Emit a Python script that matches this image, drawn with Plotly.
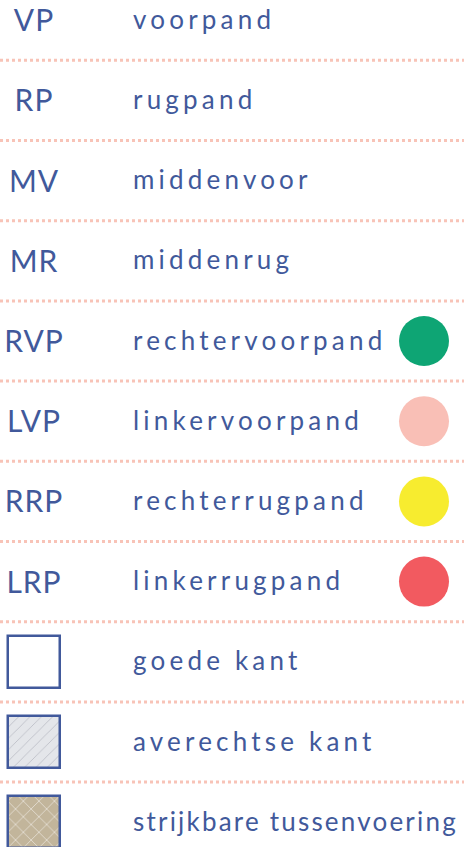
import plotly.graph_objects as go

# ---- data ----
abbrevs = ["VP", "RP", "MV", "MR", "RVP", "LVP", "RRP", "LRP"]
names = ["voorpand", "rugpand", "middenvoor", "middenrug", "rechtervoorpand",
         "linkervoorpand", "rechterrugpand", "linkerrugpand",
         "goede kant", "averechtse kant", "strijkbare tussenvoering"]
dot_colors = {4: "#0EA574", 5: "#F9BFB6", 6: "#F7EC2F", 7: "#F25A60"}
swatch_rows = [8, 9, 10]
swatch_fill = ["#FFFFFF", "#E4E6EA", "#C2B59B"]
swatch_pattern = ["", "/", "x"]
swatch_pfg = ["#FFFFFF", "#A4A8B2", "#FFFFFF"]
swatch_psize = [8, 8, 11]
swatch_psol = [0.1, 0.08, 0.1]

# ---- layout constants ----
W, H = 464, 847
ROW0, STEP = 20.2, 80.2
BLUE = "#41599B"
DOTC = "#F8C3B7"
ABBR_X, NAME_X, CIRC_X = 34, 133, 424
BOX = 52

def row_y(i):
    return ROW0 + STEP * i

fig = go.Figure()

# dotted separators
for k in range(len(names) - 1):
    yy = row_y(k) + STEP / 2
    fig.add_trace(go.Scatter(x=[0, W], y=[yy, yy], mode="lines",
                             line=dict(color=DOTC, width=3, dash="dot"),
                             hoverinfo="skip"))

# swatch boxes (bars), one trace each
for r, fill, shp, fg, ps, sol in zip(swatch_rows, swatch_fill, swatch_pattern,
                                     swatch_pfg, swatch_psize, swatch_psol):
    fig.add_trace(go.Bar(
        x=[ABBR_X], y=[BOX], base=[row_y(r) - BOX / 2], width=[BOX],
        marker=dict(color=fill, line=dict(color=BLUE, width=2.5),
                    pattern=dict(shape=shp, fgcolor=fg, bgcolor=fill,
                                 size=ps, solidity=sol, fgopacity=0.85)),
        hoverinfo="skip"))

# abbreviations
fig.add_trace(go.Scatter(
    x=[ABBR_X] * len(abbrevs), y=[row_y(i) + 3.5 for i in range(len(abbrevs))],
    mode="text", text=abbrevs, textposition="middle center",
    textfont=dict(family="Lato", size=30, color=BLUE), hoverinfo="skip"))

# names
fig.add_trace(go.Scatter(
    x=[NAME_X] * len(names), y=[row_y(i) + 2 for i in range(len(names))],
    mode="text", text=names, textposition="middle right",
    textfont=dict(family="Lato", size=26, color=BLUE), hoverinfo="skip"))

# coloured circles
rows_c = list(dot_colors.keys())
fig.add_trace(go.Scatter(
    x=[CIRC_X] * len(rows_c), y=[row_y(r) for r in rows_c],
    mode="markers",
    marker=dict(size=50, color=[dot_colors[r] for r in rows_c], line=dict(width=0)),
    hoverinfo="skip"))

fig.update_layout(
    width=W, height=H, margin=dict(l=0, r=0, t=0, b=0),
    paper_bgcolor="white", plot_bgcolor="white", showlegend=False,
    xaxis=dict(range=[0, W], visible=False, fixedrange=True),
    yaxis=dict(range=[H, 0], visible=False, fixedrange=True),
    bargap=0, barmode="overlay",
)

post = """
document.body.style.margin='0';
document.body.style.overflow='hidden';
var gd=document.getElementById('{plot_id}');
var svgRect=gd.getBoundingClientRect();
gd.querySelectorAll('g.textpoint text').forEach(function(t){
  if(t.style.fontSize==='26px'){
    var ls=4.2;
    t.style.letterSpacing=ls+'px';
    var r=t.getBoundingClientRect();
    while(r.right>svgRect.left+461 && ls>0){ls-=0.2;t.style.letterSpacing=ls+'px';r=t.getBoundingClientRect();}
  } else if(t.style.fontSize==='30px'){t.style.letterSpacing='1px';}
});
"""
fig.write_html("out.html", post_script=post, config={"displayModeBar": False})
